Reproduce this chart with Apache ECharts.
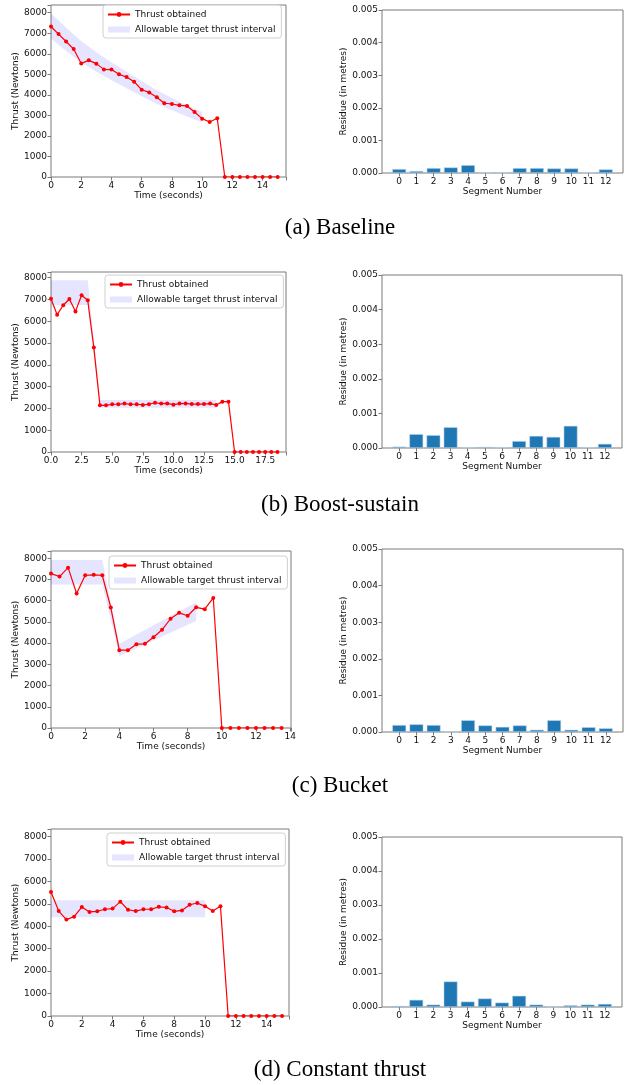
<!DOCTYPE html>
<html>
<head>
<meta charset="utf-8">
<script src="https://cdn.jsdelivr.net/npm/echarts@6/dist/echarts.min.js"></script>
<style>
  html, body { margin: 0; padding: 0; background: #fff; }
  #chart { width: 626px; height: 1085px; }
</style>
</head>
<body>
<div id="chart"></div>
<script>
// time samples (seconds)
var timeA = [0,0.5,1,1.5,2,2.5,3,3.5,4,4.5,5,5.5,6,6.5,7,7.5,8,8.5,9,9.5,10,10.5,11,11.5,12,12.5,13,13.5,14,14.5,15];
var timeB = [0,0.5,1,1.5,2,2.5,3,3.5,4,4.5,5,5.5,6,6.5,7,7.5,8,8.5,9,9.5,10,10.5,11,11.5,12,12.5,13,13.5,14,14.5,15,15.5,16,16.5,17,17.5,18,18.5];
var timeC = [0,0.5,1,1.5,2,2.5,3,3.5,4,4.5,5,5.5,6,6.5,7,7.5,8,8.5,9,9.5,10,10.5,11,11.5,12,12.5,13,13.5];
var timeD = timeA;

// thrust obtained (N)
var thrustA = [7330,6960,6600,6230,5530,5680,5520,5240,5230,5000,4870,4640,4250,4120,3880,3590,3555,3490,3460,3165,2840,2680,2860,0,0,0,0,0,0,0,0];
var thrustB = [7030,6300,6730,7020,6450,7190,6960,4790,2140,2140,2190,2190,2220,2190,2190,2160,2190,2260,2220,2230,2170,2220,2230,2200,2200,2200,2220,2160,2310,2310,0,0,0,0,0,0,0,0];
var thrustC = [7280,7140,7560,6340,7200,7220,7200,5680,3670,3670,3950,3970,4280,4630,5150,5430,5290,5690,5600,6130,0,0,0,0,0,0,0,0];
var thrustD = [5530,4680,4300,4430,4860,4640,4670,4760,4790,5100,4740,4680,4760,4760,4870,4840,4670,4710,4960,5040,4890,4680,4900,0,0,0,0,0,0,0,0];

// allowable target thrust interval
var bandTimeA = [0,1,2,3,4,5,6,7,8,9,10];
var bandHiA = [7970,7270,6620,6080,5590,5120,4670,4230,3850,3490,3170];
var bandLoA = [6730,6130,5580,5120,4710,4320,3930,3570,3250,2950,2670];
var bandTimeB = [0,3,4,13.5];
var bandHiB = [7880,7880,2380,2380];
var bandLoB = [6740,6740,2030,2030];
var bandTimeC = [0,3,4,8.5];
var bandHiC = [7920,7920,3970,5930];
var bandLoC = [6760,6760,3400,5050];
var bandTimeD = [0,10];
var bandHiD = [5160,5160];
var bandLoD = [4400,4400];

// residue per segment (m)
var segments = ['0','1','2','3','4','5','6','7','8','9','10','11','12'];
var residueA = [0.00012,0.00006,0.00015,0.00017,0.00024,0.00001,0.00001,0.00015,0.00015,0.00014,0.00014,0.000005,0.00011];
var residueB = [0.00004,0.00040,0.00037,0.00060,0.000005,0.00003,0.00002,0.00020,0.00035,0.00032,0.00064,0.00002,0.00012];
var residueC = [0.00019,0.00021,0.00019,0.00001,0.00032,0.00018,0.00014,0.00018,0.00006,0.00032,0.00006,0.00013,0.0001];
var residueD = [0.00003,0.00021,0.00007,0.00075,0.00016,0.00025,0.00013,0.00033,0.00007,0.000005,0.00005,0.00007,0.00009];

var captions = ['(a) Baseline', '(b) Boost-sustain', '(c) Bucket', '(d) Constant thrust'];

var THRUST = 'Thrust obtained';
var BAND = 'Allowable target thrust interval';
var BAND_COLOR = 'rgba(0,0,255,0.1)';
var FONT = 'DejaVu Sans';
var FS = 9;
var SPINE = '#7a7a7a';

var panels = [
  { t: timeA, y: thrustA, bt: bandTimeA, hi: bandHiA, lo: bandLoA, res: residueA,
    xmax: 15.55, xint: 2, ymax: 8375,
    lg: [51, 5, 235, 172], rg: [382, 10, 241, 163], legend: [103, 5], cap: 228 },
  { t: timeB, y: thrustB, bt: bandTimeB, hi: bandHiB, lo: bandLoB, res: residueB,
    xmax: 19.2, xint: 2.5, ymax: 8257,
    lg: [51, 272, 235, 180], rg: [382, 275, 240, 173], legend: [105, 275], cap: 505 },
  { t: timeC, y: thrustC, bt: bandTimeC, hi: bandHiC, lo: bandLoC, res: residueC,
    xmax: 14.05, xint: 2, ymax: 8344,
    lg: [51, 551, 240, 177], rg: [382, 549, 241, 183], legend: [109, 556], cap: 786 },
  { t: timeD, y: thrustD, bt: bandTimeD, hi: bandHiD, lo: bandLoD, res: residueD,
    xmax: 15.45, xint: 2, ymax: 8340,
    lg: [51, 829, 238, 187], rg: [382, 837, 240, 170], legend: [107, 833], cap: 1070 }
];

var labelStyle = { fontFamily: FONT, fontSize: FS, color: '#111' };
var nameStyle = { fontFamily: FONT, fontSize: FS, color: '#111' };
var tickStyle = { show: true, inside: false, length: 3.5, lineStyle: { color: SPINE, width: 1 } };

var grid = [], xAxis = [], yAxis = [], series = [], legend = [], graphic = [];

panels.forEach(function (p, i) {
  var li = i * 2, ri = i * 2 + 1;
  grid.push({ left: p.lg[0], top: p.lg[1], width: p.lg[2], height: p.lg[3],
    show: true, borderColor: SPINE, borderWidth: 1, backgroundColor: 'transparent' });
  grid.push({ left: p.rg[0], top: p.rg[1], width: p.rg[2], height: p.rg[3],
    show: true, borderColor: SPINE, borderWidth: 1, backgroundColor: 'transparent' });

  // thrust plot
  xAxis.push({
    gridIndex: li, type: 'value', min: 0, max: p.xmax, interval: p.xint,
    name: 'Time (seconds)', nameLocation: 'middle', nameGap: 13, nameTextStyle: nameStyle,
    axisLine: { show: false }, axisTick: tickStyle, splitLine: { show: false },
    axisLabel: Object.assign({ margin: 4, formatter: function (v) {
      var k = v / p.xint;
      if (Math.abs(k - Math.round(k)) > 1e-6) return '';
      return p.xint === 2.5 ? v.toFixed(1) : String(v);
    } }, labelStyle)
  });
  yAxis.push({
    gridIndex: li, type: 'value', min: 0, max: p.ymax, interval: 1000,
    name: 'Thrust (Newtons)', nameLocation: 'middle', nameGap: 26, nameRotate: 90,
    nameTextStyle: nameStyle,
    axisLine: { show: false }, axisTick: tickStyle, splitLine: { show: false },
    axisLabel: Object.assign({ margin: 4, formatter: function (v) {
      return v % 1000 === 0 ? String(v) : '';
    } }, labelStyle)
  });

  // residue plot
  var cats = [''].concat(segments, ['']);
  var barData = ['-'].concat(p.res, ['-']);
  var inner = function (idx) { return idx > 0 && idx < cats.length - 1; };
  xAxis.push({
    gridIndex: ri, type: 'category', data: cats, boundaryGap: false,
    name: 'Segment Number', nameLocation: 'middle', nameGap: 13, nameTextStyle: nameStyle,
    axisLine: { show: false },
    axisTick: Object.assign({ interval: inner }, tickStyle),
    splitLine: { show: false },
    axisLabel: Object.assign({ margin: 4, interval: inner }, labelStyle)
  });
  yAxis.push({
    gridIndex: ri, type: 'value', min: 0, max: 0.005, interval: 0.001,
    name: 'Residue (in metres)', nameLocation: 'middle', nameGap: 27, nameRotate: 90,
    nameTextStyle: nameStyle,
    axisLine: { show: false }, axisTick: tickStyle, splitLine: { show: false },
    axisLabel: Object.assign({ margin: 4, formatter: function (v) { return v.toFixed(3); } }, labelStyle)
  });

  series.push({
    type: 'custom', name: BAND, xAxisIndex: li, yAxisIndex: li, z: 1,
    itemStyle: { color: BAND_COLOR },
    encode: { x: 0, y: [1, 2] },
    data: p.bt.map(function (t, k) { return [t, p.lo[k], p.hi[k]]; }),
    renderItem: function (params, api) {
      if (params.dataIndex !== 0) return;
      var pts = [], k;
      for (k = 0; k < p.bt.length; k++) pts.push(api.coord([p.bt[k], p.hi[k]]));
      for (k = p.bt.length - 1; k >= 0; k--) pts.push(api.coord([p.bt[k], p.lo[k]]));
      return { type: 'polygon', shape: { points: pts }, style: { fill: BAND_COLOR } };
    }
  });
  series.push({
    type: 'line', name: THRUST, xAxisIndex: li, yAxisIndex: li, z: 3,
    data: p.t.map(function (t, k) { return [t, p.y[k]]; }),
    symbol: 'circle', symbolSize: 4, showSymbol: true,
    lineStyle: { color: '#ff0000', width: 1.2 },
    itemStyle: { color: '#ff0000' }
  });
  series.push({
    type: 'bar', name: 'Residue', xAxisIndex: ri, yAxisIndex: ri,
    data: barData, barWidth: 13.8,
    itemStyle: { color: '#1f77b4', borderColor: 'rgba(180,210,235,0.9)', borderWidth: 0.6 }
  });

  legend.push({
    orient: 'vertical', left: p.legend[0], top: p.legend[1],
    padding: [5, 6, 4, 4], itemGap: 6, itemWidth: 22, itemHeight: 6,
    borderColor: '#d0d0d0', borderWidth: 1, borderRadius: 3,
    backgroundColor: 'rgba(255,255,255,0.8)',
    textStyle: { fontFamily: FONT, fontSize: FS, color: '#111' },
    data: [THRUST, { name: BAND, icon: 'rect' }],
    selectedMode: false
  });

  graphic.push({
    type: 'text', x: 340, y: p.cap,
    style: { text: captions[i], align: 'center', verticalAlign: 'middle',
      font: '23px "Liberation Serif"', fill: '#000' }
  });
});

var myChart = echarts.init(document.getElementById('chart'), null, { renderer: 'canvas' });
var option = {
  animation: false,
  backgroundColor: '#fff',
  grid: grid,
  xAxis: xAxis,
  yAxis: yAxis,
  legend: legend,
  series: series,
  graphic: graphic
};
myChart.setOption(option);
</script>
</body>
</html>
